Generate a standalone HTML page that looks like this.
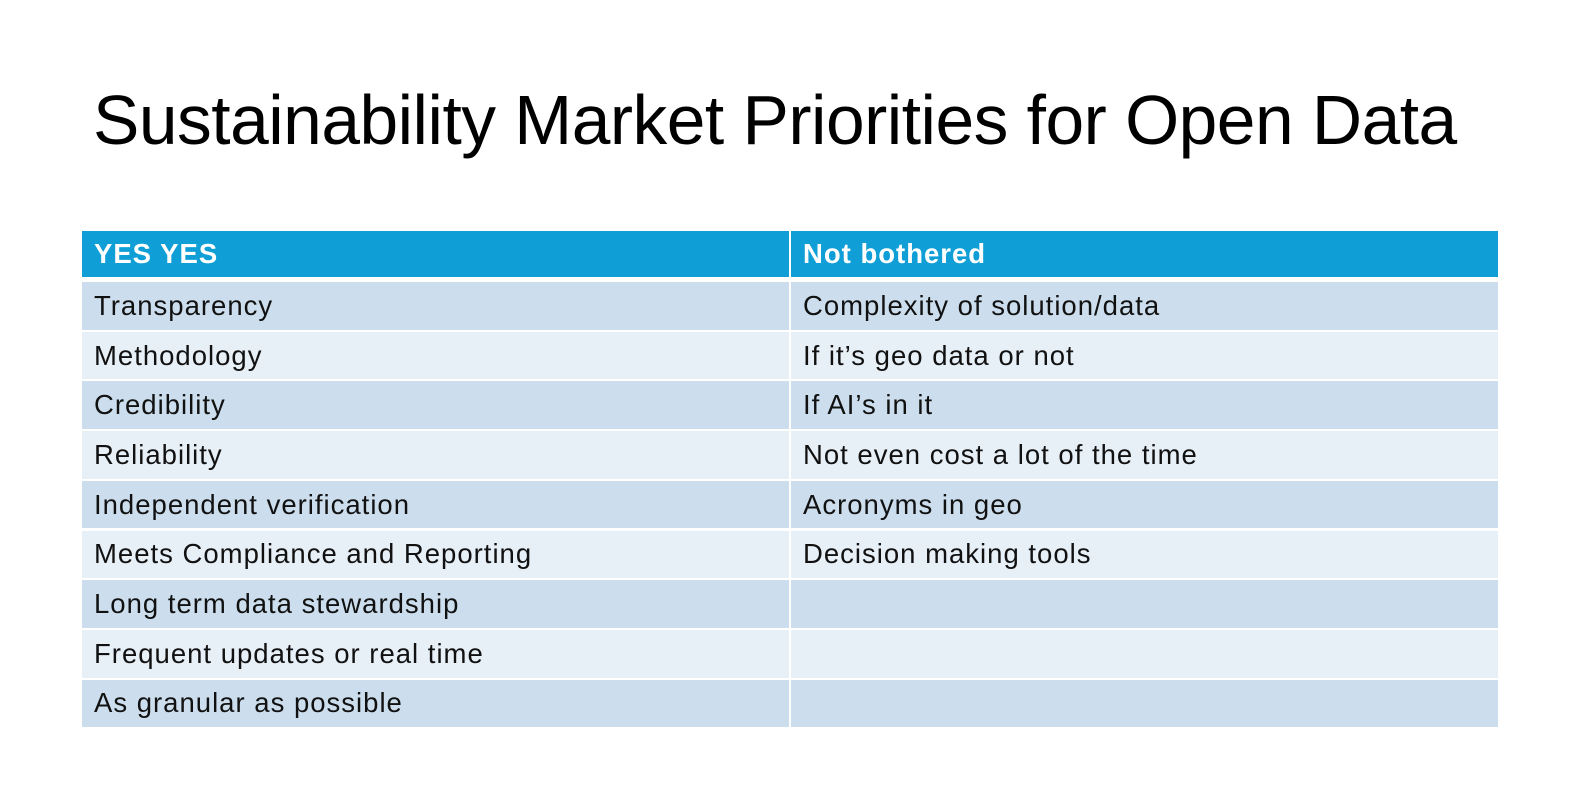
<!DOCTYPE html>
<html><head><style>
body{margin:0;width:1577px;height:806px;background:#fff;font-family:"Liberation Sans",sans-serif;position:relative;overflow:hidden}
.t{position:absolute;left:93px;top:80px;font-size:69.5px;color:#000;white-space:nowrap;letter-spacing:-0.5px}
.c{position:absolute;box-sizing:border-box;padding-left:12px;font-size:27.5px;letter-spacing:1px;color:#111;display:flex;align-items:center;white-space:nowrap}
.h{background:#0f9ed5;color:#fff;font-weight:bold}
.o{background:#ccdeed}.e{background:#e7eff7}
</style></head><body>
<div class="t">Sustainability Market Priorities for Open Data</div>
<div class="c h" style="left:82px;top:231px;width:707px;height:46px">YES YES</div>
<div class="c h" style="left:791px;top:231px;width:707px;height:46px">Not bothered</div>
<script>
var L=["Transparency","Methodology","Credibility","Reliability","Independent verification","Meets Compliance and Reporting","Long term data stewardship","Frequent updates or real time","As granular as possible"];
var R=["Complexity of solution/data","If it’s geo data or not","If AI’s in it","Not even cost a lot of the time","Acronyms in geo","Decision making tools","","",""];
for(var i=0;i<9;i++){var y=282+i*49.7,cl=i%2?"e":"o";
document.write('<div class="c '+cl+'" style="left:82px;top:'+y+'px;width:707px;height:47.7px">'+L[i]+'</div><div class="c '+cl+'" style="left:791px;top:'+y+'px;width:707px;height:47.7px">'+R[i]+'</div>');}
</script>
</body></html>
